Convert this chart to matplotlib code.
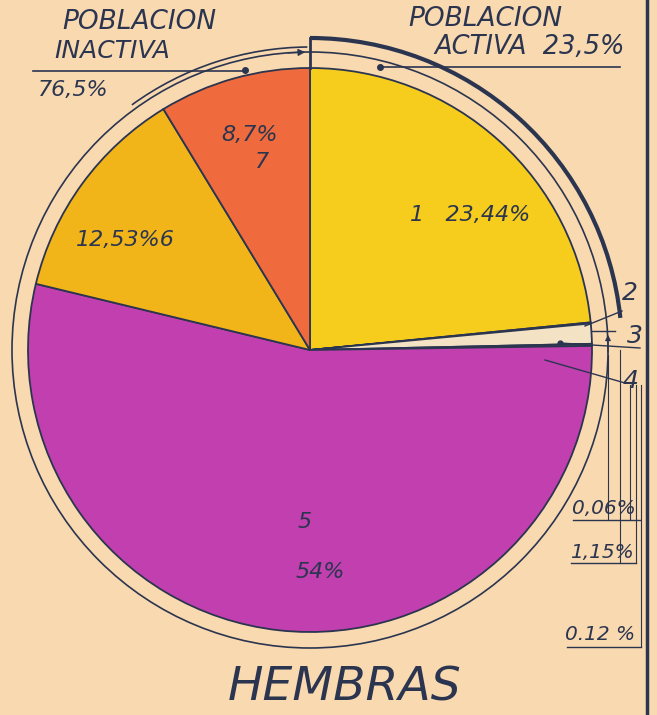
import matplotlib.pyplot as plt
from matplotlib.patches import Circle, Arc

# sector data (percent of women), clockwise from the top
labels = ["1", "2", "3", "4", "5", "6", "7"]
shares = [23.44, 0.06, 1.15, 0.12, 54.0, 12.53, 8.7]
colors = ["#f6cd1c", "#6f8f3c", "#f3e3c4", "#dcdcd2", "#c13fae", "#f1b51a", "#ef6a3c"]

activa = 23.5
inactiva = 76.5

BG = "#f9d9b0"
INK = "#2b3550"

fig = plt.figure(figsize=(6.57, 7.15), dpi=100)
fig.patch.set_facecolor(BG)
ax = fig.add_axes([0, 0, 1, 1])
ax.set_facecolor(BG)

# pixel-like coordinates, y measured from the top of the picture
H = 715
cx, cy, r = 310, H - 350, 282

ax.pie(shares, colors=colors, startangle=90, counterclock=False,
       center=(cx, cy), radius=r,
       wedgeprops=dict(edgecolor=INK, linewidth=1.3))

# outer rings
ax.add_patch(Circle((cx, cy), 298, fill=False, ec=INK, lw=1.2))
# thick arc for active population
ax.add_patch(Arc((cx, cy), 2 * 312, 2 * 312, theta1=90 - activa / 100 * 360 + 0.5,
                 theta2=90, ec=INK, lw=3))
ax.plot([cx, cx], [cy + 282, cy + 312], color=INK, lw=2)
# arrow for inactive population
ax.add_patch(Arc((cx, cy), 2 * 303, 2 * 303, theta1=90.5, theta2=126, ec=INK, lw=1.2))
ax.annotate("", xy=(cx - 2, H - 52), xytext=(cx - 25, H - 53),
            arrowprops=dict(arrowstyle="-|>", color=INK, lw=1.0, mutation_scale=10))

tx = dict(color=INK, fontstyle="italic", family="DejaVu Sans")

# header labels
ax.text(62, H - 22, "POBLACION", fontsize=19, va="center", **tx)
ax.text(54, H - 51, "INACTIVA", fontsize=18, va="center", **tx)
ax.plot([33, 245], [H - 71, H - 71], color=INK, lw=1.2)
ax.plot(245, H - 70, "o", color=INK, ms=4)
ax.text(38, H - 90, f"{inactiva:.1f}%".replace(".", ","), fontsize=16, va="center", **tx)

ax.text(408, H - 19, "POBLACION", fontsize=19, va="center", **tx)
ax.text(434, H - 47, f"ACTIVA  {activa:.1f}%".replace(".", ","), fontsize=18.5, va="center", **tx)
ax.plot([380, 620], [H - 67, H - 67], color=INK, lw=1.2)
ax.plot(380, H - 67, "o", color=INK, ms=4)

# labels inside sectors
ax.text(470, H - 215, "1   " + f"{shares[0]:.2f}%".replace(".", ","),
        fontsize=16, ha="center", va="center", **tx)
ax.text(125, H - 240, f"{shares[5]:.2f}%".replace(".", ",") + "6",
        fontsize=16, ha="center", va="center", **tx)
ax.text(250, H - 135, f"{shares[6]:.1f}%".replace(".", ","),
        fontsize=16, ha="center", va="center", **tx)
ax.text(262, H - 162, labels[6], fontsize=16, ha="center", va="center", **tx)
ax.text(305, H - 522, labels[4], fontsize=16, ha="center", va="center", **tx)
ax.text(320, H - 572, f"{shares[4]:.0f}%", fontsize=16, ha="center", va="center", **tx)

# small sectors: numbers and leader lines on the right
ax.text(630, H - 293, labels[1], fontsize=18, ha="center", va="center", **tx)
ax.text(635, H - 336, labels[2], fontsize=18, ha="center", va="center", **tx)
ax.text(630, H - 381, labels[3], fontsize=18, ha="center", va="center", **tx)
ax.plot([585, 622], [H - 326, H - 311], color=INK, lw=1.0)
ax.plot([592, 615], [H - 331, H - 331], color=INK, lw=1.0)
ax.plot([560, 640], [H - 343, H - 348], color=INK, lw=1.0)
ax.plot(560, H - 343, "o", color=INK, ms=3.5)
ax.plot([545, 625], [H - 360, H - 383], color=INK, lw=1.0)

ax.annotate("", xy=(608, H - 332), xytext=(608, H - 355),
            arrowprops=dict(arrowstyle="-|>", color=INK, lw=0.9, mutation_scale=8))
ax.plot([608, 608], [H - 355, H - 520], color=INK, lw=0.8)
ax.plot([620, 620], [H - 350, H - 563], color=INK, lw=0.8)
ax.plot([630, 630], [H - 385, H - 520], color=INK, lw=0.8)
ax.plot([636, 636], [H - 385, H - 563], color=INK, lw=0.8)
ax.plot([641, 641], [H - 385, H - 646], color=INK, lw=0.8)

ax.text(572, H - 508, f"{shares[1]:.2f}%".replace(".", ","), fontsize=14.5, va="center", **tx)
ax.plot([573, 640], [H - 520, H - 520], color=INK, lw=1.0)
ax.text(570, H - 552, f"{shares[2]:.2f}%".replace(".", ","), fontsize=14.5, va="center", **tx)
ax.plot([571, 636], [H - 563, H - 563], color=INK, lw=1.0)
ax.text(565, H - 634, f"{shares[3]:.2f} %", fontsize=14.5, va="center", **tx)
ax.plot([567, 641], [H - 647, H - 647], color=INK, lw=1.0)

# frame line on the right
ax.plot([647, 647], [0, H], color=INK, lw=2.5)

ax.text(345, H - 688, "HEMBRAS", fontsize=34, ha="center", va="center", **tx)

ax.set_xlim(0, 657)
ax.set_ylim(0, H)
ax.set_aspect("equal")
ax.axis("off")

fig.savefig("out.png", dpi=100, facecolor=BG)
